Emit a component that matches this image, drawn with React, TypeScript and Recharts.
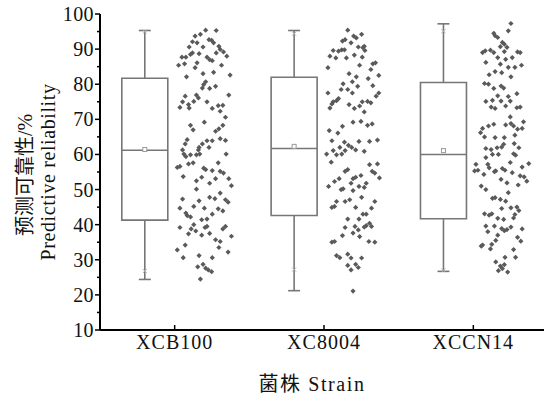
import React from 'react'
import { ComposedChart, Scatter, XAxis, YAxis, ReferenceArea, ReferenceLine, ReferenceDot } from 'recharts'

const STRAINS = ['XCB100', 'XC8004', 'XCCN14']
const Y_TICKS = [10, 15, 20, 25, 30, 35, 40, 45, 50, 55, 60, 65, 70, 75, 80, 85, 90, 95, 100]

// box statistics
const MINS = [24.4, 21.2, 26.7]
const Q1S = [41.3, 42.6, 41.7]
const MEDIANS = [61.2, 61.7, 60.0]
const Q3S = [81.7, 82.0, 80.5]
const MAXS = [95.3, 95.3, 97.2]
const MEANS = [61.4, 62.3, 61.1]
const P1S = [26.8, 27.2, 27.0]
const P99S = [95.0, 94.4, 95.1]

// raw points: [value, jitter % across the scatter strip]
const XCB100_POINTS = [
  [95.4, 50], [95.3, 66], [93.7, 34], [94.2, 42], [92.7, 55], [92.5, 59], [91.8, 62], [92.1, 30], [91.8, 37], [90.6, 25],
  [90.6, 46], [90.8, 70], [89.9, 72], [88.9, 30], [88.5, 27], [88.7, 40], [88.9, 66], [89.2, 77], [88.0, 82], [87.7, 14],
  [87.7, 20], [87.7, 52], [87.0, 56], [86.7, 60], [86.1, 37], [85.4, 9], [85.8, 18], [84.7, 34], [85.4, 74], [83.0, 46],
  [83.4, 62], [82.1, 21], [82.6, 87], [80.7, 50], [79.9, 47], [78.9, 45], [78.8, 56], [79.4, 65], [76.6, 19], [76.9, 36],
  [76.1, 39], [76.9, 85], [75.0, 15], [75.1, 32], [75.0, 52], [74.2, 24], [73.4, 11], [73.2, 25], [73.9, 69], [74.0, 76],
  [73.1, 60], [72.3, 72], [70.6, 80], [69.2, 48], [68.3, 27], [67.0, 31], [68.3, 76], [67.3, 70], [66.6, 65], [64.2, 22],
  [63.0, 19], [61.3, 15], [63.9, 52], [63.9, 60], [64.5, 72], [64.0, 80], [63.0, 45], [62.0, 40], [62.0, 55], [60.1, 17],
  [59.9, 27], [59.9, 36], [61.3, 39], [60.1, 41], [59.4, 20], [60.1, 81],
  [56.3, 7], [56.6, 11], [57.3, 24], [57.6, 31], [57.6, 69], [56.1, 47], [55.7, 50], [55.4, 60], [55.2, 72], [54.7, 77],
  [53.7, 16], [53.5, 44], [52.5, 36], [53.1, 65], [51.8, 56], [53.1, 85], [51.1, 89], [50.1, 36], [49.0, 72], [47.3, 15],
  [46.8, 40], [47.8, 56], [47.4, 64], [47.1, 80], [46.4, 84], [44.7, 11], [45.2, 32], [44.7, 48], [44.5, 69], [43.9, 76],
  [43.3, 20], [42.6, 22], [42.2, 27], [43.0, 60], [41.4, 44], [41.6, 52], [40.0, 32], [39.2, 11], [38.8, 28], [38.2, 35],
  [39.2, 49], [39.5, 52], [38.8, 76], [39.5, 80], [37.4, 24], [37.0, 44], [37.5, 56], [36.7, 89], [35.7, 65], [35.2, 72],
  [33.5, 70], [34.2, 19], [32.8, 7], [32.2, 84], [30.6, 16], [31.2, 40], [30.6, 60], [28.7, 46], [28.0, 38], [27.6, 50],
  [27.1, 54], [26.6, 59], [24.5, 42],
]

const XC8004_POINTS = [
  [95.4, 39], [93.7, 48], [93.2, 52], [94.2, 60], [92.3, 31], [92.7, 35], [91.8, 44], [89.6, 17], [89.4, 25], [89.8, 30],
  [89.8, 34], [90.6, 55], [90.4, 62], [89.6, 65], [90.8, 64], [88.0, 12], [87.5, 21], [87.5, 37], [88.3, 49], [87.7, 61],
  [84.7, 9], [85.4, 57], [85.8, 77], [86.1, 81], [84.2, 74], [83.0, 41], [82.1, 52], [81.6, 70], [82.5, 86], [80.1, 32],
  [80.7, 46], [79.4, 54], [79.6, 77], [78.5, 29], [78.5, 39], [77.5, 46], [77.5, 86], [76.6, 82], [77.5, 9], [75.9, 25],
  [75.3, 22], [75.0, 17], [74.4, 15], [73.2, 12], [74.2, 41], [73.1, 49], [73.8, 57], [75.0, 61], [75.1, 69], [74.7, 74],
  [72.1, 64], [69.2, 47], [69.4, 59], [68.3, 69], [68.7, 76], [68.0, 31], [66.8, 11], [66.1, 24], [63.9, 15], [63.7, 56],
  [63.7, 72], [64.1, 84], [63.5, 34], [62.6, 40], [62.0, 45], [62.0, 27], [61.1, 17], [61.1, 35], [61.3, 51], [60.9, 64],
  [60.1, 7], [59.9, 22], [60.1, 30],
  [57.8, 14], [57.1, 72], [57.3, 84], [55.2, 76], [54.7, 80], [55.2, 35], [55.7, 39], [53.3, 87], [50.9, 10], [52.3, 19],
  [53.1, 26], [51.8, 44], [53.1, 47], [53.5, 51], [54.0, 59], [50.9, 56], [50.6, 64], [51.8, 67], [50.0, 29], [50.2, 32],
  [49.7, 47], [47.8, 60], [46.6, 22], [46.6, 35], [47.1, 42], [46.6, 80], [44.9, 15], [45.2, 19], [44.9, 51], [44.7, 75],
  [43.0, 62], [43.0, 67], [41.6, 39], [41.6, 56], [40.4, 72], [39.2, 35], [39.5, 50], [38.5, 55], [39.3, 64], [39.7, 67],
  [39.5, 75], [36.9, 31], [37.6, 47], [36.6, 57], [35.0, 15], [35.2, 19], [35.2, 71], [35.0, 80], [31.2, 22], [30.6, 27],
  [31.6, 39], [30.5, 44], [30.5, 60], [28.4, 39], [27.1, 44], [28.7, 51], [27.8, 55], [21.1, 47],
]

const XCCN14_POINTS = [
  [97.3, 60], [95.2, 56], [94.5, 34], [93.8, 36], [93.3, 40], [91.9, 47], [91.4, 50], [90.7, 44], [90.5, 54], [89.0, 17],
  [89.5, 21], [89.7, 29], [89.0, 34], [89.3, 50], [89.2, 70], [89.0, 74], [87.6, 40], [87.1, 52], [87.6, 62], [86.2, 22],
  [85.7, 44], [84.8, 56], [84.8, 66], [85.4, 76], [82.7, 27], [83.6, 36], [83.3, 46], [82.1, 60], [80.2, 20], [80.0, 26],
  [79.5, 45], [78.9, 49], [78.8, 34], [76.7, 40], [76.5, 56], [77.3, 69], [75.1, 22], [75.4, 32], [75.2, 45], [75.2, 59],
  [73.5, 30], [73.1, 36], [73.8, 52], [73.3, 69], [73.5, 74], [70.7, 59], [68.4, 52], [68.8, 60], [68.1, 64], [69.3, 79],
  [68.1, 26], [68.6, 34], [67.4, 17], [66.2, 14], [67.2, 70], [67.4, 77], [65.0, 20], [64.8, 36], [64.8, 50], [65.5, 66],
  [62.9, 49], [62.1, 46], [61.7, 22], [61.4, 30], [61.9, 39], [63.1, 65], [61.9, 72],
  [60.0, 32], [60.0, 41], [60.2, 64], [59.8, 67], [59.1, 22], [57.2, 7], [55.5, 10], [55.3, 5], [57.2, 25], [56.2, 27],
  [55.3, 37], [55.1, 35], [56.0, 47], [55.5, 51], [57.7, 59], [54.8, 62], [56.4, 77], [57.4, 87], [53.9, 74], [53.6, 80],
  [52.4, 84], [54.3, 19], [52.9, 45], [51.9, 54], [51.3, 71], [51.0, 15], [50.0, 22], [49.1, 56], [47.5, 32], [47.7, 36],
  [47.2, 44], [46.7, 52], [44.6, 46], [44.8, 60], [45.0, 69], [44.0, 72], [43.1, 20], [42.7, 27], [43.1, 31], [41.8, 40],
  [41.5, 49], [41.9, 64], [42.9, 66], [39.6, 22], [39.6, 35], [38.9, 46], [38.3, 50], [38.6, 54], [39.3, 60], [38.8, 77],
  [38.0, 25], [37.0, 40], [36.4, 70], [35.3, 75], [34.2, 17], [33.9, 15], [34.4, 31], [33.1, 29], [35.5, 37], [32.9, 64],
  [30.7, 51], [30.7, 67], [29.4, 37], [28.2, 44], [27.5, 47], [28.6, 50], [26.5, 55], [26.9, 41],
]

const GROUPS = [XCB100_POINTS, XC8004_POINTS, XCCN14_POINTS]

const BOX_COLOR = '#767676'
const POINT_COLOR = '#5a5a5a'
const SERIF = "'Liberation Serif', 'Noto Sans CJK SC', serif"
const UNIT_PX = 149.3 // px per category on the x axis
const BOX_OFFSET = -0.2
const BOX_HALF = 0.154
const CAP_HALF = 0.04

const boxX = (i: number) => i + 0.5 + BOX_OFFSET

const scatterData = GROUPS.map((pts, i) =>
  pts.map(([v, j]) => ({ x: i + 0.5 + ((j / 100) * 66 - 2) / UNIT_PX, y: v }))
)

const Diamond = (p: any) => {
  const { cx, cy } = p
  const r = 2.6
  return <path d={`M${cx},${cy - r}L${cx + r},${cy}L${cx},${cy + r}L${cx - r},${cy}Z`} fill={POINT_COLOR} />
}

const MeanMark = (p: any) => (
  <rect x={p.cx - 2} y={p.cy - 2} width={4} height={4} fill="#fff" stroke="#9a9a9a" strokeWidth={1} />
)

const CrossMark = (p: any) => (
  <g stroke="#b0b0b0" strokeWidth={1}>
    <line x1={p.cx - 2} y1={p.cy - 2} x2={p.cx + 2} y2={p.cy + 2} />
    <line x1={p.cx - 2} y1={p.cy + 2} x2={p.cx + 2} y2={p.cy - 2} />
  </g>
)

const textStyle = { fontFamily: SERIF }

const YTick = (props: any) => {
  const { x, y, payload } = props
  const major = payload.value % 10 === 0
  return (
    <g>
      <line x1={x - (major ? 5 : 3)} y1={y} x2={x} y2={y} stroke="#000" strokeWidth={1.5} />
      {major && (
        <text x={x - 6} y={y} textAnchor="end" dominantBaseline="central" fontSize={20} letterSpacing={0.4} fill="#111" style={textStyle}>
          {payload.value}
        </text>
      )}
    </g>
  )
}

const XTick = (props: any) => {
  const { x, y, payload } = props
  return (
    <g>
      <line x1={x} y1={y} x2={x} y2={y - 5} stroke="#000" strokeWidth={1.5} />
      <text x={x} y={y + 19} textAnchor="middle" fontSize={20} letterSpacing={1} fill="#111" style={textStyle}>
        {STRAINS[Math.floor(payload.value)]}
      </text>
    </g>
  )
}

const YLabel = (props: any) => {
  const vb = props.viewBox
  const cy = vb.y + vb.height / 2
  return (
    <g fill="#111">
      <text x={25} y={cy + 3} transform={`rotate(-90 25 ${cy + 3})`} textAnchor="middle" dominantBaseline="central" fontSize={20} style={textStyle}>
        预测可靠性/%
      </text>
      <text x={48} y={cy} transform={`rotate(-90 48 ${cy})`} textAnchor="middle" dominantBaseline="central" fontSize={20} letterSpacing={0.6} style={textStyle}>
        Predictive reliability
      </text>
    </g>
  )
}

const XLabel = (props: any) => {
  const vb = props.viewBox
  return (
    <text x={vb.x + vb.width / 2 - 12} y={391} textAnchor="middle" fontSize={20} letterSpacing={1.6} fill="#111" style={textStyle}>
      菌株 Strain
    </text>
  )
}

export default function App() {
  return (
    <div style={{ position: 'absolute', left: 0, top: 0, width: 544, height: 396, overflow: 'hidden', background: '#fff' }}>
      <ComposedChart width={552} height={396} margin={{ top: 14, right: 4, left: 0, bottom: 0 }}>
        <XAxis
          type="number"
          dataKey="x"
          domain={[0, 3]}
          ticks={[0.5, 1.5, 2.5]}
          allowDataOverflow
          height={66}
          tickSize={0}
          tickMargin={0}
          tickLine={false}
          axisLine={{ stroke: '#000', strokeWidth: 2 }}
          tick={XTick}
          label={{ content: XLabel }}
        />
        <YAxis
          type="number"
          dataKey="y"
          domain={[10, 100]}
          ticks={Y_TICKS}
          interval={0}
          width={100}
          tickSize={0}
          tickMargin={0}
          tickLine={false}
          axisLine={{ stroke: '#000', strokeWidth: 2 }}
          tick={YTick}
          label={{ content: YLabel }}
        />
        {STRAINS.map((s, i) => (
          <ReferenceArea
            key={`box-${s}`}
            x1={boxX(i) - BOX_HALF}
            x2={boxX(i) + BOX_HALF}
            y1={Q1S[i]}
            y2={Q3S[i]}
            fill="#fff"
            fillOpacity={1}
            stroke={BOX_COLOR}
            strokeWidth={1.6}
          />
        ))}
        {STRAINS.map((s, i) => (
          <ReferenceLine key={`med-${s}`} segment={[{ x: boxX(i) - BOX_HALF, y: MEDIANS[i] }, { x: boxX(i) + BOX_HALF, y: MEDIANS[i] }]} stroke={BOX_COLOR} strokeWidth={1.6} />
        ))}
        {STRAINS.map((s, i) => (
          <ReferenceLine key={`wu-${s}`} segment={[{ x: boxX(i), y: Q3S[i] }, { x: boxX(i), y: MAXS[i] }]} stroke={BOX_COLOR} strokeWidth={1.6} />
        ))}
        {STRAINS.map((s, i) => (
          <ReferenceLine key={`wl-${s}`} segment={[{ x: boxX(i), y: Q1S[i] }, { x: boxX(i), y: MINS[i] }]} stroke={BOX_COLOR} strokeWidth={1.6} />
        ))}
        {STRAINS.map((s, i) => (
          <ReferenceLine key={`cu-${s}`} segment={[{ x: boxX(i) - CAP_HALF, y: MAXS[i] }, { x: boxX(i) + CAP_HALF, y: MAXS[i] }]} stroke={BOX_COLOR} strokeWidth={1.6} />
        ))}
        {STRAINS.map((s, i) => (
          <ReferenceLine key={`cl-${s}`} segment={[{ x: boxX(i) - CAP_HALF, y: MINS[i] }, { x: boxX(i) + CAP_HALF, y: MINS[i] }]} stroke={BOX_COLOR} strokeWidth={1.6} />
        ))}
        {STRAINS.map((s, i) => (
          <ReferenceDot key={`p1-${s}`} x={boxX(i)} y={P1S[i]} r={2} shape={CrossMark} />
        ))}
        {STRAINS.map((s, i) => (
          <ReferenceDot key={`p99-${s}`} x={boxX(i)} y={P99S[i]} r={2} shape={CrossMark} />
        ))}
        {STRAINS.map((s, i) => (
          <ReferenceDot key={`mean-${s}`} x={boxX(i)} y={MEANS[i]} r={2} shape={MeanMark} />
        ))}
        {STRAINS.map((s, i) => (
          <Scatter key={`pts-${s}`} name={s} data={scatterData[i]} shape={Diamond} isAnimationActive={false} />
        ))}
      </ComposedChart>
    </div>
  )
}
